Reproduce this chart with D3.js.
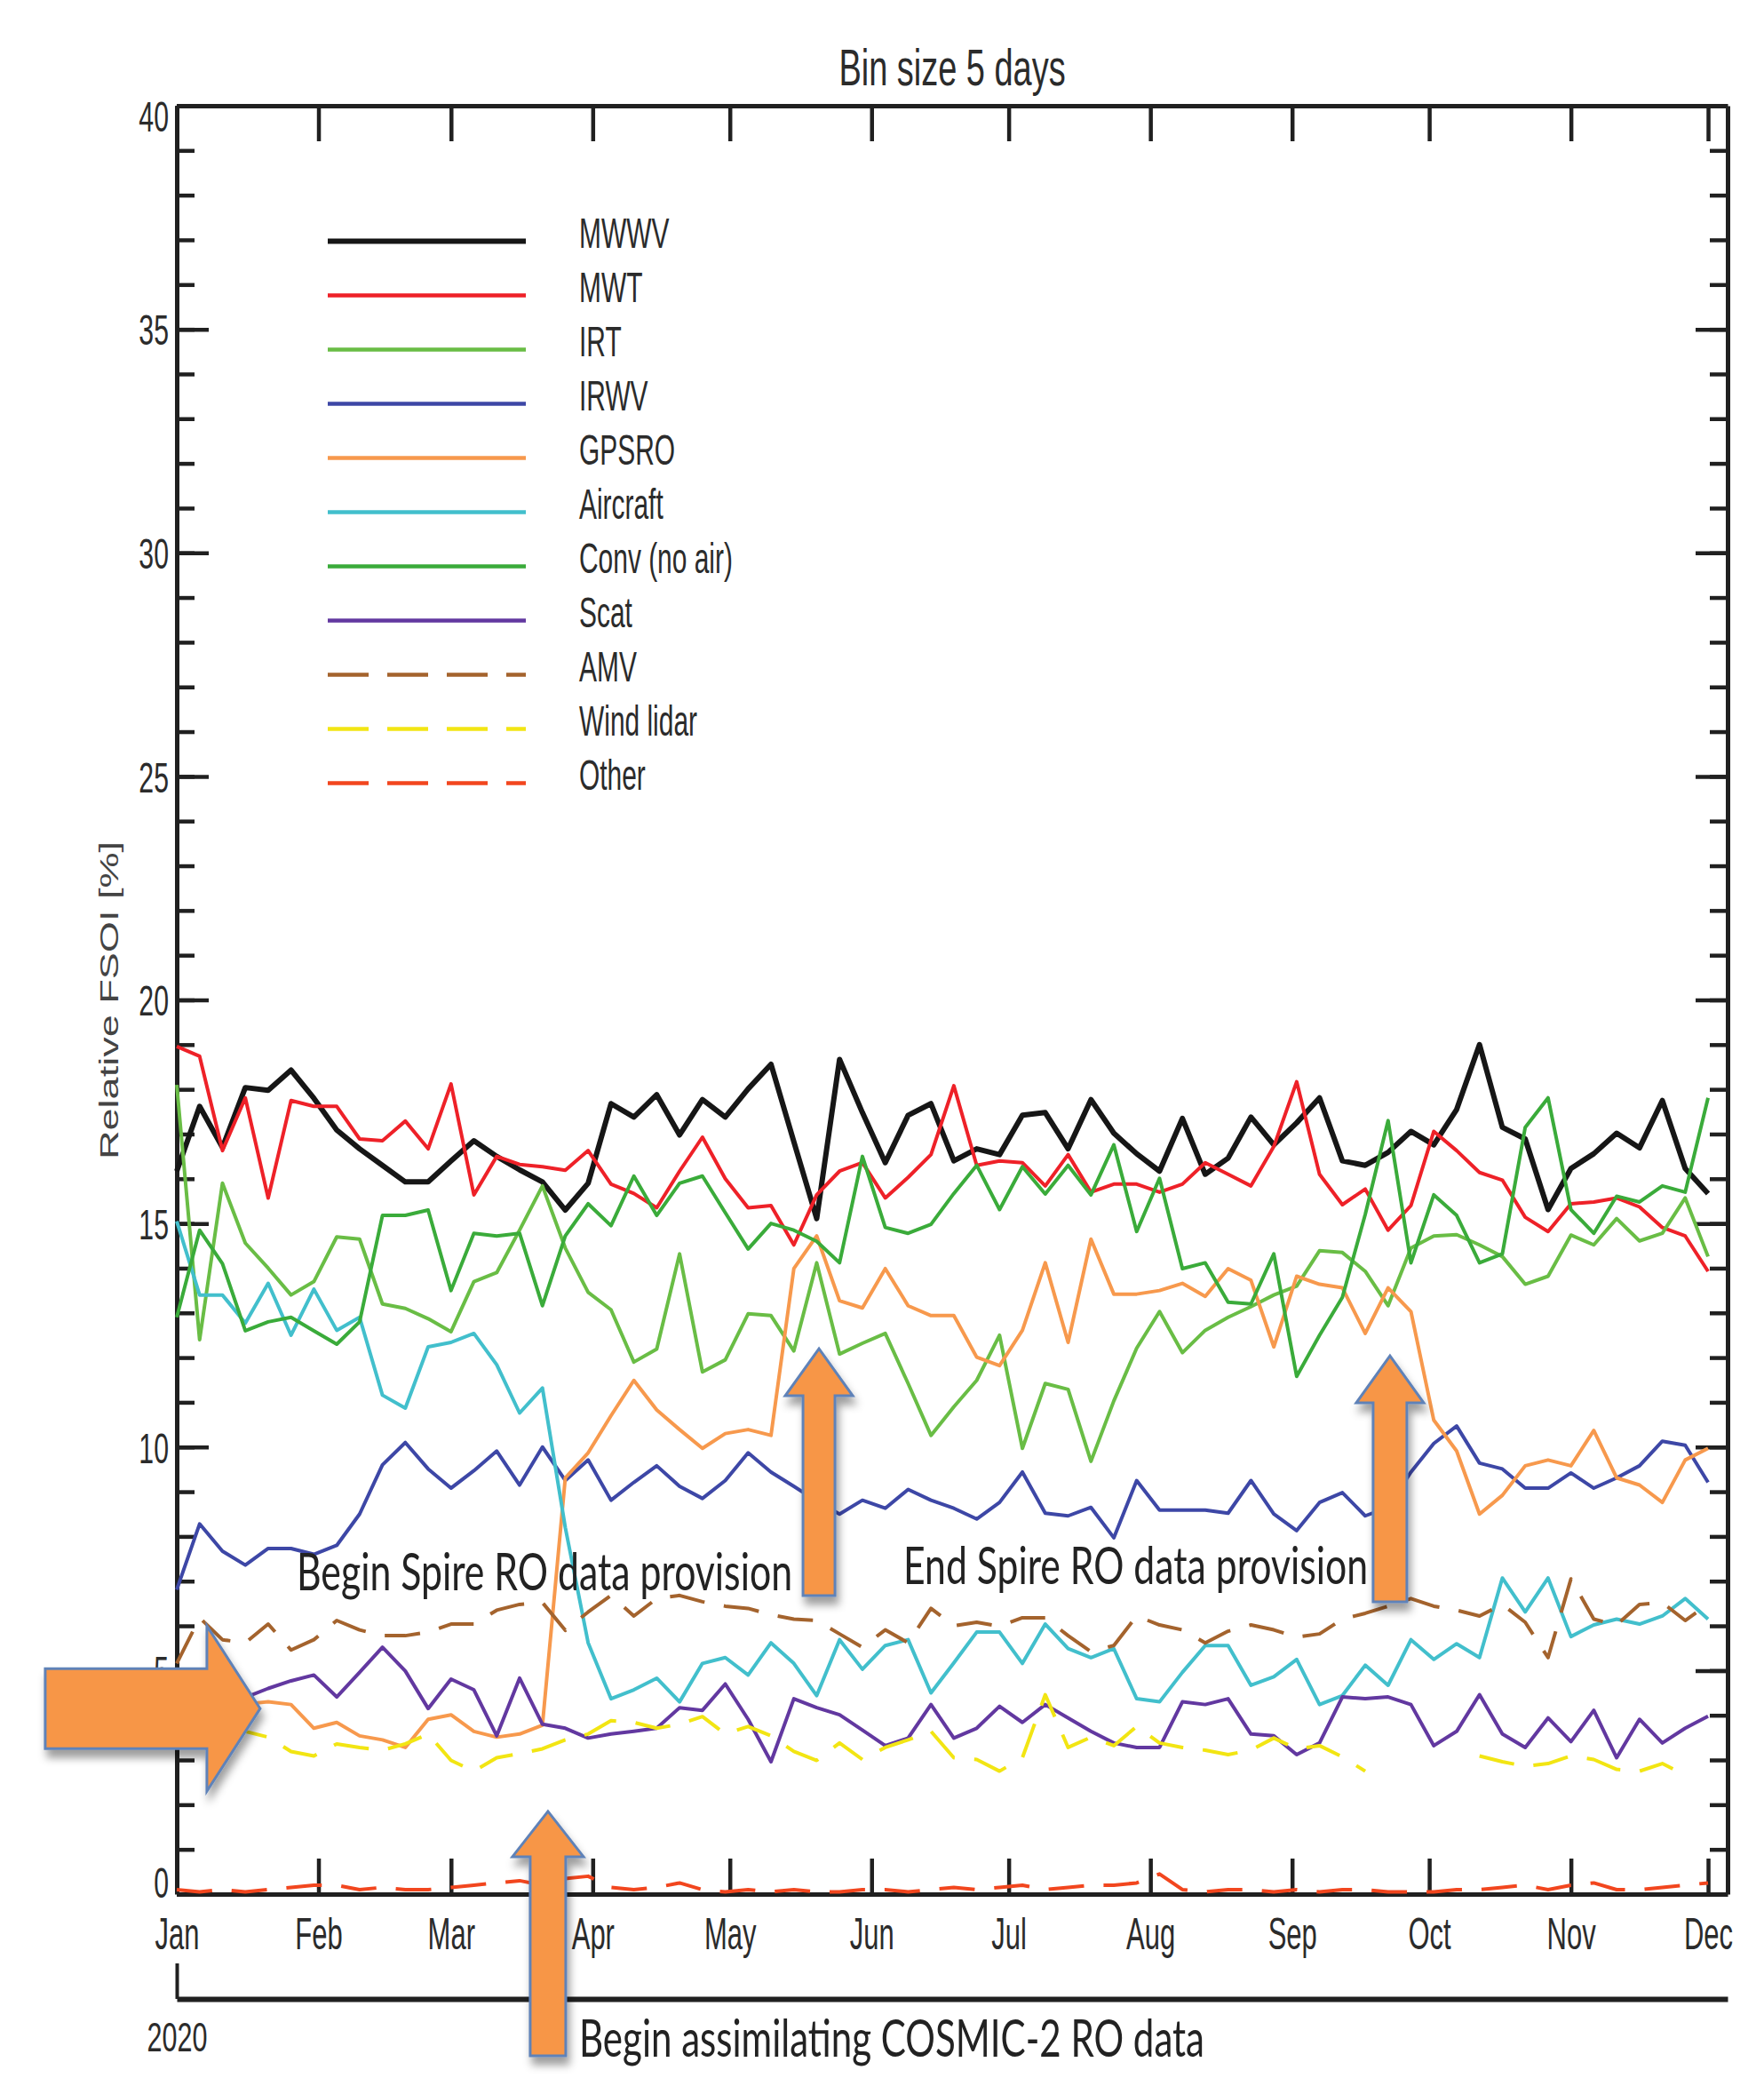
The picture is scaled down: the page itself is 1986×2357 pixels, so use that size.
<!DOCTYPE html>
<html>
<head>
<meta charset="utf-8">
<script src="https://cdn.jsdelivr.net/npm/d3@7/dist/d3.min.js"></script>
<style>
  html, body { margin: 0; padding: 0; background: #fff; }
  svg { display: block; }
</style>
</head>
<body>
<div id="chart"></div>
<script>
// 5-day bins, Jan 1 2020 ... Dec 1 2020 (68 bins)
const binStart = new Date(2020, 0, 1);
const binDays = 5;

const mwwv = [16.17,17.62,16.7,18.04,17.98,18.43,17.8,17.09,16.67,16.3,15.93,15.93,16.4,16.85,16.5,16.2,15.93,15.3,
  15.9,17.68,17.38,17.88,16.98,17.77,17.38,18.01,18.56,16.83,15.11,18.67,17.48,16.36,17.42,17.68,16.4,
  16.67,16.54,17.42,17.48,16.67,17.77,17.02,16.56,16.17,17.35,16.1,16.46,17.38,16.76,17.25,17.81,16.4,
  16.3,16.59,17.06,16.76,17.55,19.0,17.15,16.89,15.31,16.23,16.56,17.02,16.69,17.75,16.23,15.67];
const mwt = [18.96,18.74,16.63,17.81,15.57,17.75,17.62,17.62,16.89,16.85,17.29,16.67,18.12,15.64,16.5,16.32,16.27,16.19,
  16.63,15.88,15.67,15.35,16.17,16.93,16.0,15.35,15.4,14.52,15.64,16.17,16.36,15.57,16.03,16.54,18.08,
  16.3,16.4,16.36,15.84,16.54,15.7,15.88,15.88,15.7,15.88,16.36,16.1,15.84,16.72,18.17,16.1,15.42,
  15.77,14.85,15.4,17.06,16.63,16.14,15.97,15.14,14.82,15.44,15.48,15.57,15.37,14.91,14.72,13.93];
const irt = [18.1,12.4,15.9,14.56,14.0,13.4,13.7,14.7,14.65,13.2,13.1,12.87,12.58,13.7,13.9,14.85,15.84,14.45,
  13.46,13.07,11.9,12.19,14.32,11.68,11.95,12.98,12.94,12.15,14.12,12.08,12.32,12.54,11.42,10.26,10.9,
  11.49,12.5,9.97,11.42,11.29,9.68,11.03,12.21,13.03,12.11,12.61,12.9,13.14,13.4,13.6,14.39,14.35,
  13.93,13.16,14.45,14.72,14.75,14.52,14.26,13.64,13.82,14.74,14.52,15.11,14.61,14.78,15.57,14.26];
const irwv = [6.81,8.28,7.67,7.36,7.73,7.73,7.6,7.8,8.5,9.6,10.1,9.51,9.08,9.47,9.91,9.15,10.0,9.25,
  9.71,8.81,9.21,9.58,9.12,8.85,9.25,9.87,9.44,9.12,8.79,8.5,8.81,8.63,9.05,8.81,8.63,
  8.39,8.76,9.44,8.52,8.46,8.65,7.97,9.25,8.59,8.59,8.59,8.52,9.25,8.5,8.13,8.76,8.98,
  8.46,8.65,9.44,10.08,10.47,9.64,9.51,9.08,9.08,9.42,9.08,9.31,9.58,10.13,10.04,9.21];
const gpsro = [4.4,4.3,4.3,4.25,4.3,4.24,3.71,3.84,3.54,3.45,3.28,3.91,4.01,3.64,3.51,3.58,3.78,9.31,
  9.87,10.7,11.49,10.83,10.39,9.97,10.3,10.39,10.26,13.99,14.72,13.27,13.11,13.99,13.16,12.94,12.94,
  12.01,11.82,12.61,14.12,12.34,14.65,13.42,13.42,13.5,13.66,13.37,13.99,13.73,12.24,13.82,13.64,13.56,
  12.54,13.56,13.03,10.6,9.91,8.5,8.92,9.58,9.71,9.58,10.37,9.31,9.15,8.76,9.71,9.97];
const aircraft = [15.05,13.4,13.4,12.77,13.66,12.5,13.53,12.61,12.9,11.16,10.87,12.24,12.34,12.54,11.84,10.76,11.32,8.2,
  5.62,4.37,4.57,4.83,4.3,5.16,5.29,4.9,5.62,5.16,4.44,5.69,5.03,5.56,5.69,4.5,5.17,
  5.86,5.86,5.16,6.04,5.49,5.29,5.49,4.37,4.3,4.96,5.56,5.56,4.67,4.86,5.25,4.24,4.44,
  5.12,4.67,5.69,5.25,5.6,5.29,7.07,6.31,7.07,5.76,6.02,6.15,6.04,6.22,6.61,6.15];
const conv = [12.9,14.85,14.1,12.6,12.8,12.9,12.6,12.3,12.8,15.18,15.18,15.3,13.5,14.78,14.72,14.78,13.16,14.72,
  15.44,14.95,16.06,15.18,15.9,16.06,15.24,14.43,15.0,14.85,14.6,14.12,16.5,14.91,14.78,14.98,15.67,
  16.3,15.31,16.27,15.66,16.3,15.64,16.76,14.82,16.01,13.99,14.12,13.24,13.2,14.32,11.58,12.5,13.35,
  15.2,17.3,14.12,15.64,15.18,14.12,14.32,17.15,17.81,15.31,14.78,15.61,15.48,15.84,15.7,17.81];
const scat = [4.2,4.3,4.35,4.4,4.6,4.77,4.9,4.41,4.96,5.52,4.99,4.15,4.81,4.57,3.54,4.83,3.8,3.71,
  3.49,3.58,3.64,3.71,4.17,4.11,4.7,3.91,2.96,4.37,4.17,4.01,3.67,3.32,3.49,4.24,3.49,
  3.71,4.2,3.84,4.24,3.94,3.64,3.38,3.28,3.28,4.3,4.24,4.37,3.58,3.54,3.12,3.38,4.41,
  4.37,4.41,4.24,3.32,3.64,4.46,3.58,3.28,3.94,3.41,4.11,3.05,3.91,3.38,3.71,3.98];
const amv = [5.16,6.18,5.69,5.62,6.04,5.46,5.69,6.12,5.91,5.78,5.78,5.86,6.04,6.04,6.35,6.48,6.52,5.9,
  6.31,6.68,6.22,6.61,6.68,6.54,6.44,6.39,6.25,6.15,6.12,5.82,5.52,5.91,5.62,6.39,6.0,
  6.08,5.99,6.18,6.18,5.78,5.42,5.56,6.22,6.02,5.91,5.62,5.88,6.02,5.91,5.75,5.82,6.15,
  6.28,6.44,6.61,6.44,6.35,6.22,6.48,6.08,5.29,7.05,6.15,6.02,6.48,6.52,6.12,6.48];
const windLidar = [3.6,3.6,3.65,3.64,3.51,3.19,3.09,3.36,3.28,3.22,3.36,3.58,2.99,2.75,3.05,3.14,3.25,3.45,
  3.58,3.88,3.84,3.71,3.8,3.97,3.58,3.75,3.54,3.19,2.99,3.38,3.01,3.28,3.45,3.64,3.05,
  3.01,2.75,3.05,4.46,3.28,3.51,3.32,3.75,3.38,3.28,3.22,3.12,3.22,3.49,3.25,3.32,3.07,
  2.75,null,null,null,null,3.09,2.96,2.86,2.92,3.09,3.01,2.79,2.75,2.92,2.66,null];
const other = [0.1,0.05,0.1,0.05,0.1,0.15,0.2,0.2,0.1,0.15,0.1,0.1,0.15,0.2,0.25,0.3,0.2,0.35,
  0.4,0.15,0.1,0.15,0.25,0.1,0.05,0.1,0.05,0.1,0.05,0.05,0.1,0.1,0.05,0.1,0.15,
  0.1,0.15,0.2,0.1,0.15,0.2,0.2,0.25,0.45,0.1,0.05,0.1,0.1,0.05,0.1,0.05,0.1,
  0.1,0.05,0.05,0.05,0.1,0.1,0.15,0.2,0.1,0.2,0.25,0.1,0.1,0.15,0.2,0.25];

const seriesNames = ["MWWV","MWT","IRT","IRWV","GPSRO","Aircraft","Conv (no air)","Scat","AMV","Wind lidar","Other"];
const seriesValues = [mwwv, mwt, irt, irwv, gpsro, aircraft, conv, scat, amv, windLidar, other];
const seriesColors = ["#161616","#ee2128","#69bd45","#3d47a6","#f7994d","#42bfcc","#3aab3a","#6238a0","#a4632d","#f2e513","#f2461e"];
const seriesDashed = [false,false,false,false,false,false,false,false,true,true,true];

const yMajor = [0,5,10,15,20,25,30,35,40];
const yMinor = d3.range(0, 41, 1);
const months = d3.timeMonth.range(new Date(2020,0,1), new Date(2020,11,2));

const titleText = "Bin size 5 days";
const yLabel = "Relative FSOI [%]";

// annotations: arrow tip at (date, value)
const arrows = [
  {date: new Date(2020,0,19,6), value: 4.15, dir: "right", len: 242, head: 60, headHalf: 93, bodyHalf: 45},
  {date: new Date(2020,2,22,5), value: 1.85, dir: "up", len: 275, head: 51, headHalf: 40, bodyHalf: 20},
  {date: new Date(2020,4,20,12), value: 12.2, dir: "up", len: 278, head: 53, headHalf: 38, bodyHalf: 18},
  {date: new Date(2020,8,22,10), value: 12.04, dir: "up", len: 277, head: 53, headHalf: 38, bodyHalf: 19}
];
const notes = [
  {text: "Begin Spire RO data provision", x: 334, y: 1790, w: 558},
  {text: "End Spire RO data provision", x: 1017, y: 1783, w: 523},
  {text: "Begin assimilating COSMIC-2 RO data", x: 652, y: 2315, w: 704}
];

// ---- layout ----
const W = 1986, H = 2357;
const frame = {left: 199, right: 1945, top: 119, bottom: 2132};
const axisColor = "#202020";
const idlFont = "'Liberation Sans', Arial, sans-serif";

const svg = d3.select("#chart").append("svg")
  .attr("width", W).attr("height", H)
  .attr("viewBox", `0 0 ${W} ${H}`);

const defs = svg.append("defs");
defs.append("filter").attr("id", "shadow")
  .attr("x", "-40%").attr("y", "-40%").attr("width", "180%").attr("height", "180%")
  .append("feDropShadow")
  .attr("dx", 3).attr("dy", 9).attr("stdDeviation", 5)
  .attr("flood-color", "#000").attr("flood-opacity", 0.38);

const x = d3.scaleTime()
  .domain([new Date(2020,0,1), new Date(2020,11,5,6,30)])
  .range([frame.left, frame.right]);
const y = d3.scaleLinear()
  .domain([0, 40])
  .range([frame.bottom, frame.top]);

const styleAxis = (g, domainWidth, tickWidth) => {
  g.select(".domain").attr("stroke", axisColor).attr("stroke-width", domainWidth);
  g.selectAll(".tick line").attr("stroke", axisColor).attr("stroke-width", tickWidth);
  g.selectAll("text").attr("fill", "#2b2b2b").attr("font-family", idlFont);
};

// minor ticks (no labels)
svg.append("g").attr("transform", `translate(${frame.left},0)`)
  .call(d3.axisLeft(y).tickValues(yMinor).tickSize(-20).tickFormat(""))
  .call(g => g.select(".domain").remove())
  .call(g => g.selectAll(".tick line").attr("stroke", axisColor).attr("stroke-width", 4.5));
svg.append("g").attr("transform", `translate(${frame.right},0)`)
  .call(d3.axisRight(y).tickValues(yMinor).tickSize(-20).tickFormat(""))
  .call(g => g.select(".domain").remove())
  .call(g => g.selectAll(".tick line").attr("stroke", axisColor).attr("stroke-width", 4.5));

// left axis with labels (end labels nudged inside the frame, as IDL does)
const labelShift = v => v === 0 ? -14 : (v === 40 ? 11 : 0);
svg.append("g").attr("transform", `translate(${frame.left},0)`)
  .call(d3.axisLeft(y).tickValues(yMajor).tickSize(-36).tickSizeOuter(0).tickPadding(9))
  .call(g => styleAxis(g, 5, 4.5))
  .call(g => g.selectAll("text")
    .attr("x", null).attr("dy", "0.36em")
    .attr("font-size", 48)
    .attr("transform", d => `translate(-9,${labelShift(d)}) scale(0.63,1)`));

// right axis
svg.append("g").attr("transform", `translate(${frame.right},0)`)
  .call(d3.axisRight(y).tickValues(yMajor).tickSize(-36).tickSizeOuter(0).tickFormat(""))
  .call(g => styleAxis(g, 5, 4.5));

// top axis
svg.append("g").attr("transform", `translate(0,${frame.top})`)
  .call(d3.axisTop(x).tickValues(months).tickSize(-40).tickSizeOuter(0).tickFormat(""))
  .call(g => styleAxis(g, 5, 4.5));

// bottom axis with month labels
svg.append("g").attr("transform", `translate(0,${frame.bottom})`)
  .call(d3.axisBottom(x).tickValues(months).tickSize(-40).tickSizeOuter(0).tickFormat(d3.timeFormat("%b")))
  .call(g => styleAxis(g, 5, 4.5))
  .call(g => g.selectAll("text")
    .attr("y", null).attr("dy", null)
    .attr("font-size", 50)
    .attr("transform", "translate(0,62) scale(0.62,1)"));

// year axis
svg.append("g").attr("transform", `translate(0,2250)`)
  .call(d3.axisBottom(x).tickValues([new Date(2020,0,1)]).tickSize(-40).tickSizeOuter(0).tickFormat(d3.timeFormat("%Y")))
  .call(g => styleAxis(g, 6, 4))
  .call(g => g.selectAll("text")
    .attr("y", null).attr("dy", null)
    .attr("font-size", 47)
    .attr("transform", "translate(0,59) scale(0.65,1)"));

// title
svg.append("text")
  .attr("transform", "translate(1072,96) scale(0.666,1)")
  .attr("text-anchor", "middle")
  .attr("font-family", idlFont).attr("font-size", 57)
  .attr("fill", "#2b2b2b")
  .text(titleText);

// y label
svg.append("text")
  .attr("transform", "translate(133,1126) rotate(-90)")
  .attr("x", -179)
  .attr("textLength", 358)
  .attr("lengthAdjust", "spacingAndGlyphs")
  .attr("font-family", idlFont).attr("font-size", 30)
  .attr("fill", "#444")
  .text(yLabel);

// data lines
const line = d3.line()
  .defined(d => d.v != null)
  .x(d => x(d.date))
  .y(d => y(d.v));

const series = seriesNames.map((name, i) => ({
  name,
  color: seriesColors[i],
  dashed: seriesDashed[i],
  width: i === 0 ? 6 : 4,
  points: seriesValues[i].map((v, k) => ({date: d3.timeDay.offset(binStart, k * binDays), v}))
}));

const plot = svg.append("g").attr("class", "lines");
plot.selectAll("path")
  .data(series)
  .join("path")
  .attr("fill", "none")
  .attr("stroke", d => d.color)
  .attr("stroke-width", d => d.width)
  .attr("stroke-linejoin", "round")
  .attr("stroke-dasharray", d => d.dashed ? "40,22" : null)
  .attr("d", d => line(d.points));

// legend
const legend = svg.append("g").attr("class", "legend");
const rows = legend.selectAll("g")
  .data(series)
  .join("g")
  .attr("transform", (d, i) => `translate(0,${271.5 + i * 61})`);
rows.append("line")
  .attr("x1", 369).attr("x2", 592)
  .attr("stroke", d => d.color)
  .attr("stroke-width", d => d.width === 6 ? 6 : 4.5)
  .attr("stroke-dasharray", d => d.dashed ? "46,21" : null);
rows.append("text")
  .attr("transform", "translate(652,7) scale(0.63,1)")
  .attr("font-family", idlFont).attr("font-size", 47.5)
  .attr("fill", "#2b2b2b")
  .text(d => d.name);

// annotation text
svg.append("g").selectAll("text")
  .data(notes)
  .join("text")
  .attr("x", d => d.x).attr("y", d => d.y)
  .attr("textLength", d => d.w)
  .attr("lengthAdjust", "spacingAndGlyphs")
  .attr("font-family", "Lato, 'Open Sans', sans-serif")
  .attr("font-size", 58)
  .attr("fill", "#222")
  .text(d => d.text);

// arrows
const arrowPath = a => {
  const tx = x(a.date), ty = y(a.value);
  if (a.dir === "up") {
    const hb = ty + a.head, bot = ty + a.len;
    return `M${tx},${ty} L${tx + a.headHalf},${hb} L${tx + a.bodyHalf},${hb} L${tx + a.bodyHalf},${bot}` +
      ` L${tx - a.bodyHalf},${bot} L${tx - a.bodyHalf},${hb} L${tx - a.headHalf},${hb} Z`;
  }
  const hb = tx - a.head, left = tx - a.len;
  return `M${tx},${ty} L${hb},${ty + a.headHalf} L${hb},${ty + a.bodyHalf} L${left},${ty + a.bodyHalf}` +
    ` L${left},${ty - a.bodyHalf} L${hb},${ty - a.bodyHalf} L${hb},${ty - a.headHalf} Z`;
};
svg.append("g").attr("class", "arrows").selectAll("path")
  .data(arrows)
  .join("path")
  .attr("d", arrowPath)
  .attr("fill", "#f79646")
  .attr("stroke", "#5f82b8")
  .attr("stroke-width", 3)
  .attr("stroke-linejoin", "miter")
  .attr("filter", "url(#shadow)");
</script>
</body>
</html>
